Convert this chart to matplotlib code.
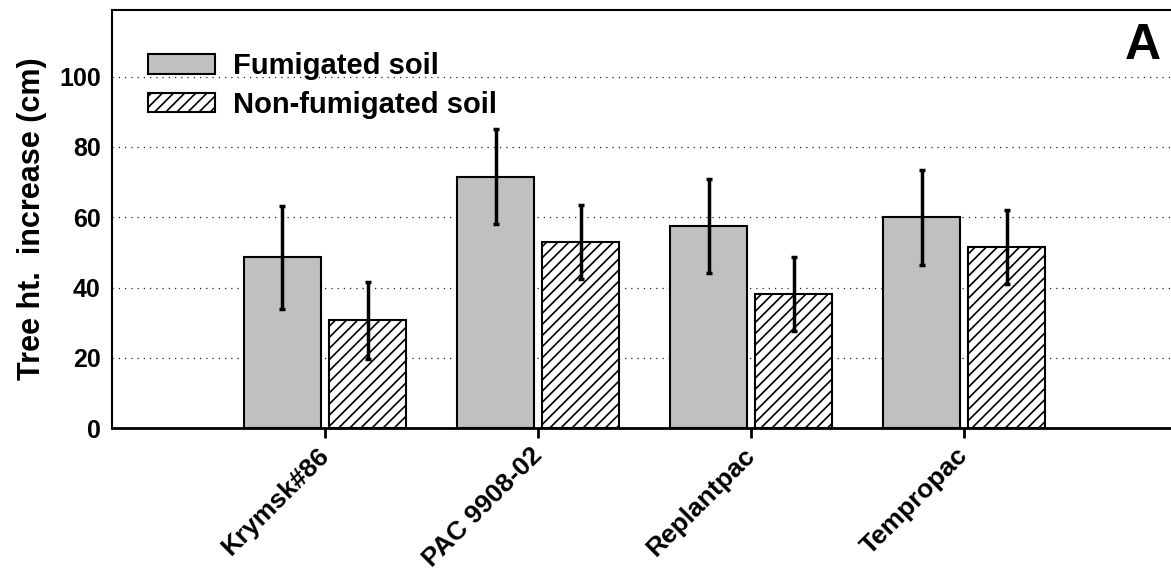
import numpy as np
import matplotlib
matplotlib.use("Agg")
import matplotlib.pyplot as plt

plt.rcParams["font.family"] = ["Liberation Sans", "DejaVu Sans"]
plt.rcParams["font.weight"] = "bold"
plt.rcParams["hatch.linewidth"] = 1.2

# Data
rootstocks = ["Krymsk#86", "PAC 9908-02", "Replantpac", "Tempropac"]
fumigated = [48.6, 71.5, 57.5, 60.0]
fumigated_err = [14.6, 13.5, 13.5, 13.5]
non_fumigated = [30.7, 52.9, 38.1, 51.6]
non_fumigated_err = [11.0, 10.5, 10.5, 10.6]

fig = plt.figure(figsize=(11.71, 5.71), dpi=100)
ax = fig.add_axes([0.0956, 0.2504, 0.9044, 0.7321])

x = np.arange(len(rootstocks))
w = 0.362

ax.bar(x - 0.2, fumigated, w, color="#c0c0c0", edgecolor="black", linewidth=1.5,
       label="Fumigated soil", zorder=2)
ax.bar(x + 0.2, non_fumigated, w, color="white", edgecolor="black", linewidth=1.5,
       hatch="///", label="Non-fumigated soil", zorder=2)
ax.errorbar(x - 0.2, fumigated, yerr=fumigated_err, fmt="none", ecolor="black",
            elinewidth=2.5, capsize=2.5, capthick=2.5, zorder=3)
ax.errorbar(x + 0.2, non_fumigated, yerr=non_fumigated_err, fmt="none", ecolor="black",
            elinewidth=2.5, capsize=2.5, capthick=2.5, zorder=3)

ax.set_xlim(-1.0, 3.97)
ax.set_ylim(0, 119)
ax.set_yticks([0, 20, 40, 60, 80, 100])
ax.yaxis.grid(True, linestyle=(0, (1, 4)), color="#222222", linewidth=0.9, zorder=0)
ax.set_axisbelow(True)

ax.set_xticks(x)
ax.set_xticklabels(rootstocks, rotation=45, ha="right", va="center",
                   rotation_mode="anchor", fontsize=19, fontweight="bold")
ax.tick_params(axis="x", direction="out", length=7, width=2, pad=10)
ax.tick_params(axis="y", length=0, labelsize=18, pad=8)
for lab in ax.get_yticklabels():
    lab.set_fontweight("bold")

ax.set_ylabel("Tree ht.  increase (cm)", fontsize=22, fontweight="bold", labelpad=9)

ax.spines["right"].set_visible(False)
ax.spines["left"].set_linewidth(1.5)
ax.spines["top"].set_linewidth(1.5)
ax.spines["bottom"].set_linewidth(2)

ax.legend(loc="upper left", bbox_to_anchor=(0.012, 0.955), frameon=False,
          prop={"size": 21, "weight": "bold"}, handlelength=2.3, handleheight=0.66,
          handletextpad=0.6, labelspacing=0.36, borderpad=0.3)

ax.text(0.99, 0.97, "A", transform=ax.transAxes, ha="right", va="top",
        fontsize=36, fontweight="bold")

fig.savefig("out.png", dpi=100)
